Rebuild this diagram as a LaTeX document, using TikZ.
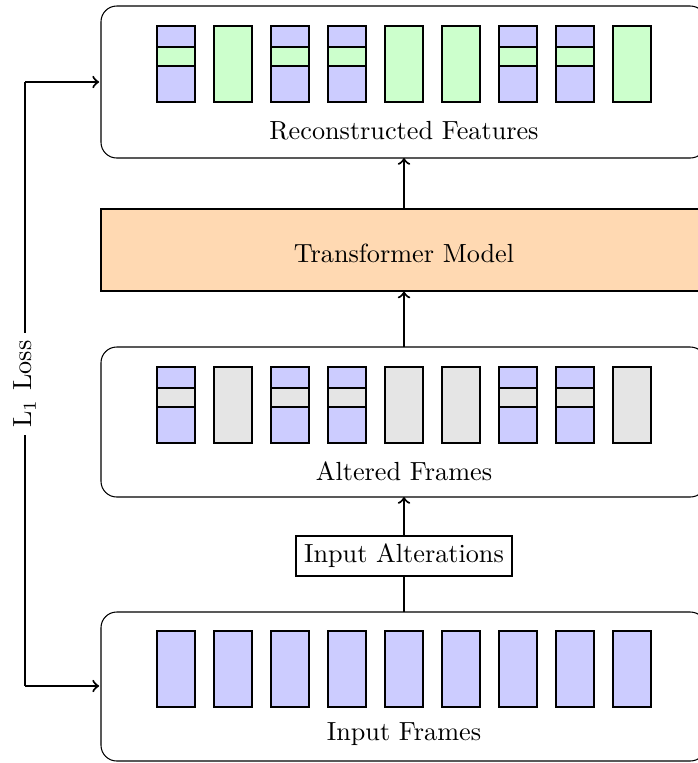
\documentclass[tikz,border=0pt]{standalone}
\begin{document}
\begin{tikzpicture}[x=0.3815pt, y=-0.3815pt,
  panel/.style={draw, rounded corners=6pt},
  frame/.style={draw, fill=blue!20},
  flow/.style={thick, ->},
  link/.style={thick}]
\useasboundingbox (0,0) rectangle (698,763);

% outer panels
\path[panel] (101,6) rectangle (706,158);
\node[inner sep=0pt] (recon) at (101,82) {};
\node[fill=orange!30, draw, minimum width=606*0.3815pt, minimum height=82*0.3815pt, inner sep=0pt] (trans) at (404,250) {};
\node at (404,253) {Transformer Model};
\path[panel] (101,347) rectangle (706,497);
\path[panel] (101,612) rectangle (706,761);
\node[inner sep=0pt] (input) at (101,686) {};

% panel anchors for the vertical flow
\coordinate (reconS) at (404,158);
\coordinate (alterN) at (404,347);
\coordinate (alterS) at (404,497);
\coordinate (inputN) at (404,612);

% column strips
\foreach \i in {0,...,8} {
  \pgfmathsetmacro{\xa}{157+57*\i}
  \pgfmathsetmacro{\xb}{\xa+38}
  % input frames
  \draw[frame] (\xa,631) rectangle (\xb,707);
  \ifnum\i=1 \def\full{1}\else\ifnum\i=4 \def\full{1}\else\ifnum\i=5 \def\full{1}\else\ifnum\i=8 \def\full{1}\else\def\full{0}\fi\fi\fi\fi
  \ifnum\full=1
    \draw[fill=green!20] (\xa,26) rectangle (\xb,102);
    \draw[fill=gray!20] (\xa,367) rectangle (\xb,443);
  \else
    \draw[frame] (\xa,26) rectangle (\xb,102);
    \draw[fill=green!20] (\xa,47) rectangle (\xb,66);
    \draw[frame] (\xa,367) rectangle (\xb,443);
    \draw[fill=gray!20] (\xa,388) rectangle (\xb,407);
  \fi
}

% panel captions
\node at (404,131) {Reconstructed Features};
\node at (404,471) {Altered Frames};
\node at (404,734) {Input Frames};

% alteration step
\node[draw, thick, inner sep=3pt] (alt) at (404,556) {Input Alterations};

% vertical flow
\draw[link] (inputN) -- (alt.south);
\draw[flow] (alt.north) -- (alterS);
\draw[flow] (alterN) -- (trans.south);
\draw[flow] (trans.north) -- (reconS);

% loss connection
\coordinate (lossT) at (25,82);
\coordinate (lossB) at (25,686);
\draw[flow] (lossT) -- (recon);
\draw[flow] (lossB) -- (input);
\draw[link] (lossT) -- node[fill=white, rotate=90, inner sep=3pt] {L$_1$ Loss} (lossB);
\end{tikzpicture}
\end{document}
